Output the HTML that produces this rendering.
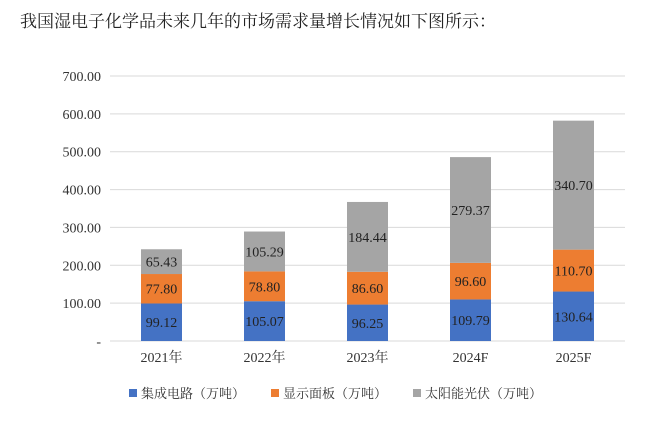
<!DOCTYPE html>
<html><head><meta charset="utf-8"><style>
body{margin:0;background:#fff;width:647px;height:422px;overflow:hidden}
svg, svg text{font-family:"Liberation Serif","DejaVu Serif","Noto Serif CJK SC",serif}
</style></head><body>
<svg id="chart" width="647" height="422" font-family="Liberation Serif, DejaVu Serif, Noto Serif CJK SC, serif">
<text x="20" y="27" font-size="17" fill="#222">我国湿电子化学品未来几年的市场需求量增长情况如下图所示：</text>
<g id="grid"></g><g id="bars"></g>
<g font-size="13" fill="#333">
<rect x="129" y="389" width="8" height="8" fill="#4472c4"/>
<text x="141" y="398">集成电路（万吨）</text>
<rect x="271" y="389" width="8" height="8" fill="#ed7d31"/>
<text x="283" y="398">显示面板（万吨）</text>
<rect x="413" y="389" width="8" height="8" fill="#a5a5a5"/>
<text x="425" y="398">太阳能光伏（万吨）</text>
</g>
</svg>
<script>
const categories=["2021年","2022年","2023年","2024F","2025F"];
const icValues=[99.12,105.07,96.25,109.79,130.64];
const displayValues=[77.80,78.80,86.60,96.60,110.70];
const solarValues=[65.43,105.29,184.44,279.37,340.70];
const yTicks=[0,100,200,300,400,500,600,700];
const NS="http://www.w3.org/2000/svg";
const y0=341,y700=76,xL=110,xR=625;
const y=v=>y0-(v/700)*(y0-y700);
const bandW=(xR-xL)/categories.length;
const xc=i=>xL+bandW*(i+0.5);
function mk(t,a,p){const e=document.createElementNS(NS,t);for(const k in a)e.setAttribute(k,a[k]);p.appendChild(e);return e;}
const grid=document.getElementById('grid'),bars=document.getElementById('bars');
yTicks.forEach(v=>{
 const l=mk('line',{x1:xL,x2:xR,y1:y(v),y2:y(v),stroke:'#d9d9d9','stroke-width':1},grid);
 
 
 const t=mk('text',{x:101,y:y(v)+5,'text-anchor':'end','font-size':14,fill:'#333'},grid);
 
 
 t.textContent=v===0?'-':v.toFixed(2);
});
const series=[[icValues,'#4472c4','ic'],[displayValues,'#ed7d31','display'],[solarValues,'#a5a5a5','solar']];
categories.forEach((c,i)=>{
 let base=0;
 series.forEach(([vals,col,nm])=>{
  const v=vals[i];
  const r=mk('rect',{x:xc(i)-20.5,width:41,y:y(base+v),height:y(base)-y(base+v),fill:col},bars);
  
  
  const t=mk('text',{x:xc(i),y:(y(base)+y(base+v))/2+5,'text-anchor':'middle','font-size':14,fill:'#222'},bars);
  
  
  t.textContent=v.toFixed(2);
  base+=v;
 });
 const t=mk('text',{x:xc(i),y:362,'text-anchor':'middle','font-size':14,fill:'#333'},bars);
 
 
 t.textContent=c;
});
</script>
</body></html>
